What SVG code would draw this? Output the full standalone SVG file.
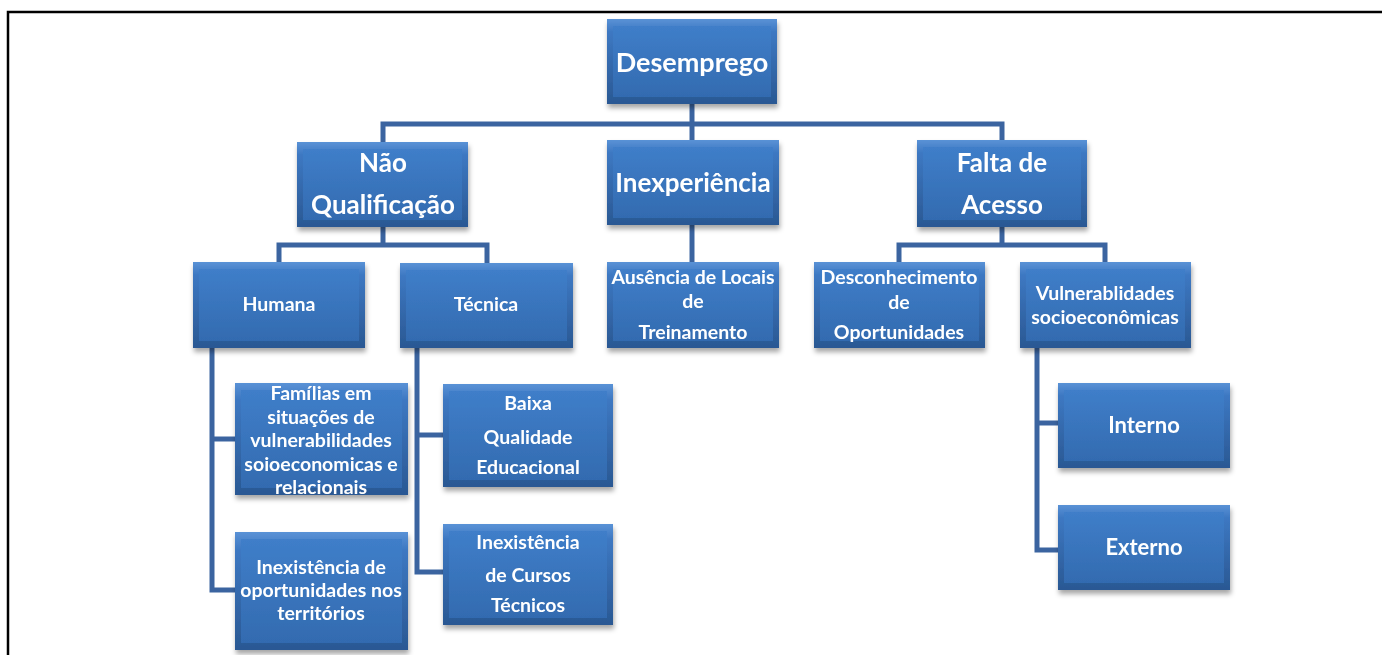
<svg xmlns="http://www.w3.org/2000/svg" width="1382" height="655" viewBox="0 0 1382 655">
<style>
.box{fill:url(#gOuter)}
.inner{fill:url(#gInner)}
.t{fill:#ffffff;font-family:Lato,"Liberation Sans",sans-serif;font-weight:bold;text-anchor:middle}
.big{font-size:26px}
.xbig{font-size:27px}
.sm{font-size:19.5px}
.md{font-size:22px}
.conn{fill:none;stroke:#3b64a0;stroke-width:5;stroke-linejoin:miter}
</style>
<defs>
<linearGradient id="gOuter" x1="0" y1="0" x2="0" y2="1">
<stop offset="0" stop-color="#5a92d6"/>
<stop offset="0.15" stop-color="#3d78c2"/>
<stop offset="1" stop-color="#2a5893"/>
</linearGradient>
<linearGradient id="gInner" x1="0" y1="0" x2="0" y2="1">
<stop offset="0" stop-color="#3f7ec9"/>
<stop offset="1" stop-color="#336bb0"/>
</linearGradient>
<filter id="sh" x="-10%" y="-10%" width="125%" height="130%">
<feDropShadow dx="1" dy="4" stdDeviation="2.5" flood-color="#000" flood-opacity="0.35"/>
</filter>
</defs>
<rect x="0" y="0" width="1382" height="655" fill="#ffffff"/>
<path d="M8,655 V12 H1382" fill="none" stroke="#000" stroke-width="2.5"/>
<g id="connectors">
<path class="conn" d="M692,104 V140"/>
<path class="conn" d="M383,142 V124 H1002 V140"/>
<path class="conn" d="M383,227 V245"/>
<path class="conn" d="M279,262 V245 H487 V263"/>
<path class="conn" d="M1002,227 V245"/>
<path class="conn" d="M899,262 V245 H1105 V262"/>
<path class="conn" d="M692,225 V262"/>
<path class="conn" d="M212,348 V590 H235"/>
<path class="conn" d="M212,439 H235"/>
<path class="conn" d="M417,348 V572 H443"/>
<path class="conn" d="M417,435 H443"/>
<path class="conn" d="M1037,348 V550 H1058"/>
<path class="conn" d="M1037,423 H1058"/>
</g>
<g id="desemprego" filter="url(#sh)">
<rect class="box" x="607" y="19" width="170" height="85"/>
<rect class="inner" x="613" y="26" width="158" height="71"/>
<text class="t xbig" x="692" y="72">Desemprego</text>
</g>
<g id="nao-qualificacao" filter="url(#sh)">
<rect class="box" x="297" y="142" width="171" height="85"/>
<rect class="inner" x="303" y="149" width="159" height="71"/>
<text class="t big" x="383" y="172">Não</text>
<text class="t big" x="383" y="214">Qualificação</text>
</g>
<g id="inexperiencia" filter="url(#sh)">
<rect class="box" x="607" y="140" width="172" height="85"/>
<rect class="inner" x="613" y="147" width="160" height="71"/>
<text class="t big" x="693" y="192">Inexperiência</text>
</g>
<g id="falta-de-acesso" filter="url(#sh)">
<rect class="box" x="917" y="140" width="170" height="87"/>
<rect class="inner" x="923" y="147" width="158" height="73"/>
<text class="t big" x="1002" y="172">Falta de</text>
<text class="t big" x="1002" y="214">Acesso</text>
</g>
<g id="humana" filter="url(#sh)">
<rect class="box" x="193" y="262" width="172" height="86"/>
<rect class="inner" x="199" y="269" width="160" height="72"/>
<text class="t sm" x="279" y="311">Humana</text>
</g>
<g id="tecnica" filter="url(#sh)">
<rect class="box" x="400" y="263" width="173" height="85"/>
<rect class="inner" x="406" y="270" width="161" height="71"/>
<text class="t sm" x="486" y="311">Técnica</text>
</g>
<g id="ausencia" filter="url(#sh)">
<rect class="box" x="607" y="262" width="172" height="86"/>
<rect class="inner" x="613" y="269" width="160" height="72"/>
<text class="t sm" x="693" y="284">Ausência de Locais</text>
<text class="t sm" x="693" y="308">de</text>
<text class="t sm" x="693" y="339">Treinamento</text>
</g>
<g id="desconhecimento" filter="url(#sh)">
<rect class="box" x="814" y="262" width="171" height="86"/>
<rect class="inner" x="820" y="269" width="159" height="72"/>
<text class="t sm" x="899" y="284">Desconhecimento</text>
<text class="t sm" x="899" y="309">de</text>
<text class="t sm" x="899" y="339">Oportunidades</text>
</g>
<g id="vulnerabilidades" filter="url(#sh)">
<rect class="box" x="1020" y="262" width="171" height="86"/>
<rect class="inner" x="1026" y="269" width="159" height="72"/>
<text class="t sm" x="1105" y="300">Vulnerablidades</text>
<text class="t sm" x="1105" y="324">socioeconômicas</text>
</g>
<g id="familias" filter="url(#sh)">
<rect class="box" x="235" y="383" width="173" height="112"/>
<rect class="inner" x="241" y="390" width="161" height="98"/>
<text class="t sm" x="321" y="400">Famílias em</text>
<text class="t sm" x="321" y="424">situações de</text>
<text class="t sm" x="321" y="447">vulnerabilidades</text>
<text class="t sm" x="321" y="471">soioeconomicas e</text>
<text class="t sm" x="321" y="494">relacionais</text>
</g>
<g id="inexistencia-oportunidades" filter="url(#sh)">
<rect class="box" x="235" y="532" width="173" height="118"/>
<rect class="inner" x="241" y="539" width="161" height="104"/>
<text class="t sm" x="321" y="574">Inexistência de</text>
<text class="t sm" x="321" y="597">oportunidades nos</text>
<text class="t sm" x="321" y="620">territórios</text>
</g>
<g id="baixa-qualidade" filter="url(#sh)">
<rect class="box" x="443" y="384" width="170" height="103"/>
<rect class="inner" x="449" y="391" width="158" height="89"/>
<text class="t sm" x="528" y="410">Baixa</text>
<text class="t sm" x="528" y="444">Qualidade</text>
<text class="t sm" x="528" y="474">Educacional</text>
</g>
<g id="inexistencia-cursos" filter="url(#sh)">
<rect class="box" x="443" y="524" width="170" height="101"/>
<rect class="inner" x="449" y="531" width="158" height="87"/>
<text class="t sm" x="528" y="549">Inexistência</text>
<text class="t sm" x="528" y="582">de Cursos</text>
<text class="t sm" x="528" y="612">Técnicos</text>
</g>
<g id="interno" filter="url(#sh)">
<rect class="box" x="1058" y="383" width="172" height="85"/>
<rect class="inner" x="1064" y="390" width="160" height="71"/>
<text class="t md" x="1144" y="433">Interno</text>
</g>
<g id="externo" filter="url(#sh)">
<rect class="box" x="1058" y="505" width="172" height="85"/>
<rect class="inner" x="1064" y="512" width="160" height="71"/>
<text class="t md" x="1144" y="555">Externo</text>
</g>
</svg>
